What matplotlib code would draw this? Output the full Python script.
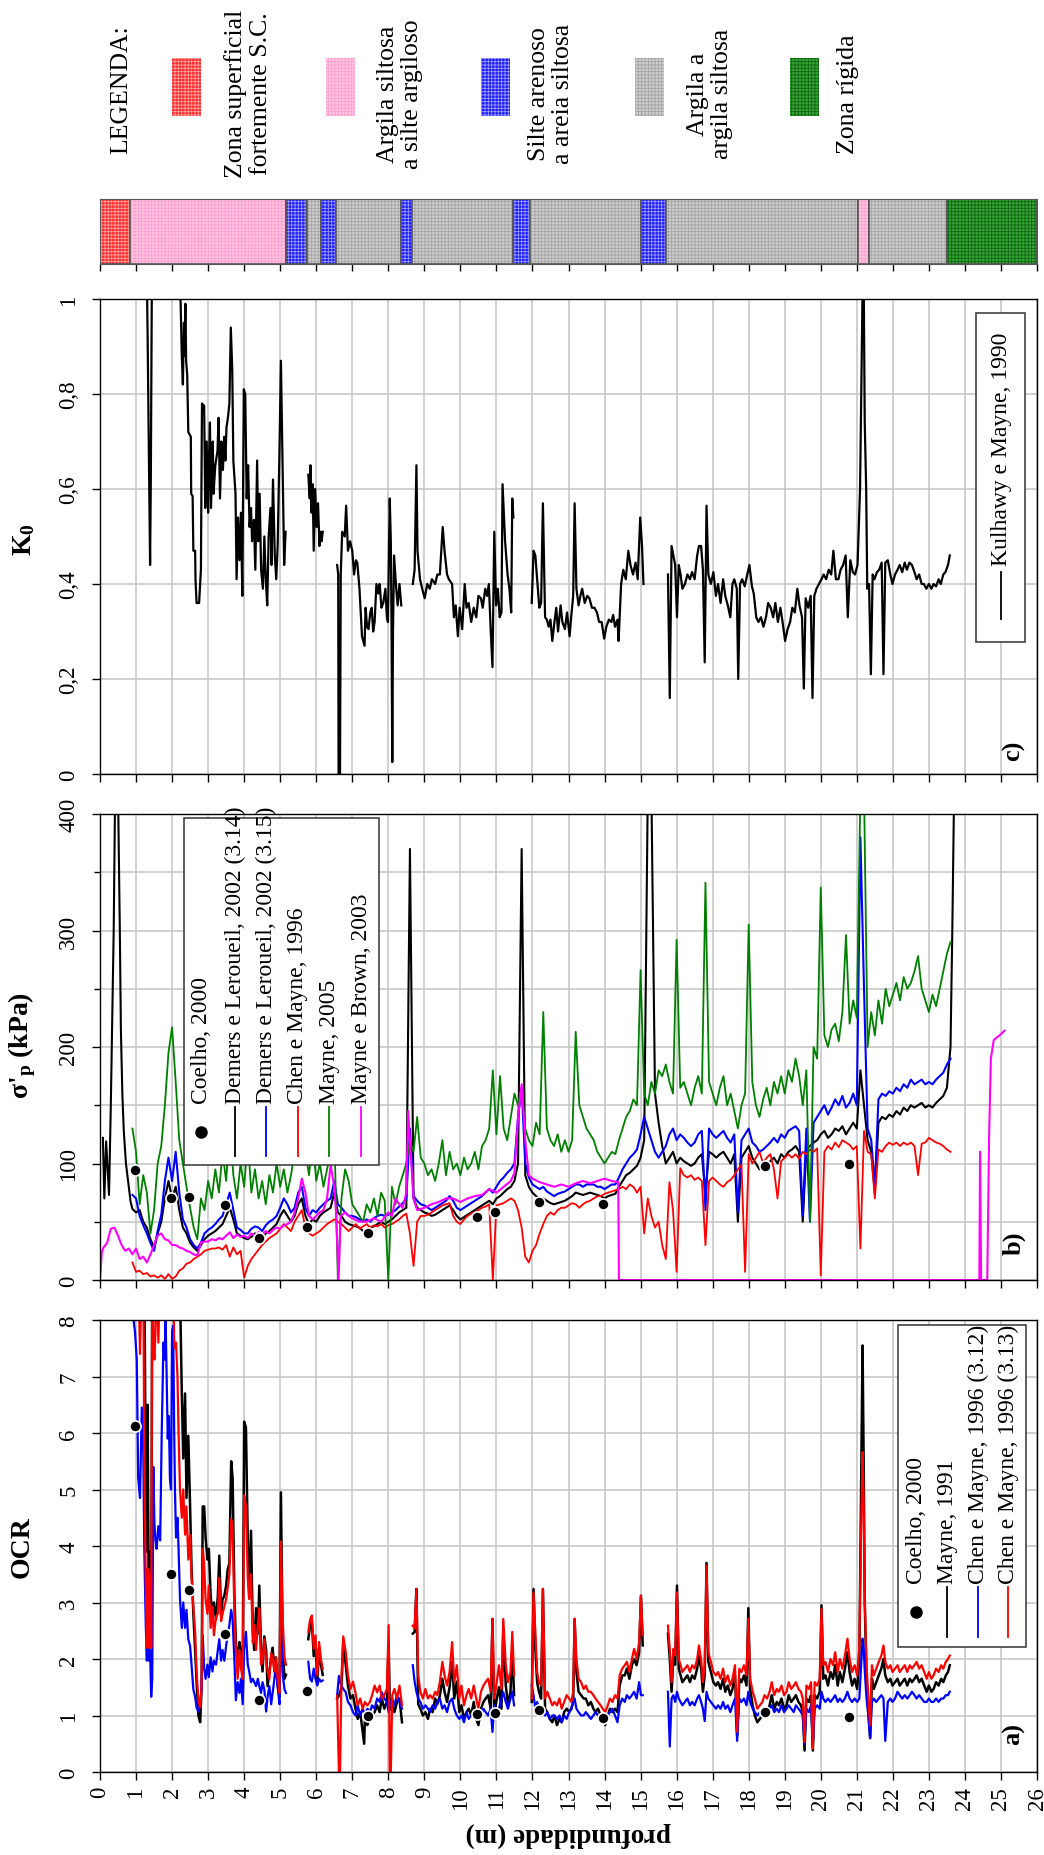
import numpy as np
import matplotlib
matplotlib.use("Agg")
import matplotlib.pyplot as plt
from matplotlib.patches import Rectangle

plt.rcParams['font.family'] = 'Liberation Serif'
plt.rcParams['mathtext.fontset'] = 'custom'
plt.rcParams['mathtext.rm'] = 'Liberation Serif'
plt.rcParams['mathtext.it'] = 'Liberation Serif:italic'
plt.rcParams['mathtext.bf'] = 'Liberation Serif:bold'
plt.rcParams['hatch.linewidth'] = 0.6

# ---------------- soil column ----------------
layer_top = [0, 0.82, 5.15, 5.74, 6.12, 6.56, 8.36, 8.65, 11.46, 11.93, 15.02, 15.71, 21.04, 21.34, 23.49]
layer_bot = [0.82, 5.15, 5.74, 6.12, 6.56, 8.36, 8.65, 11.46, 11.93, 15.02, 15.71, 21.04, 21.34, 23.49, 26.0]
layer_kind = ['sc', 'argila_silte', 'silte', 'argila', 'silte', 'argila', 'silte', 'argila',
              'silte', 'argila', 'silte', 'argila', 'argila_silte', 'argila', 'rigida']
kind_names = ['sc', 'argila_silte', 'silte', 'argila', 'rigida']
kind_labels = ['Zona superficial\nfortemente S.C.', 'Argila siltosa\na silte argiloso',
               'Silte arenoso\na areia siltosa', 'Argila a\nargila siltosa', 'Zona rígida']
kind_face = {'sc': '#ff2a2a', 'argila_silte': '#ffc4e2', 'silte': '#1a1aff',
             'argila': '#cfcfcf', 'rigida': '#35a535'}
kind_hatch = {'sc': '#ffa0a0', 'argila_silte': '#ff9fcf', 'silte': '#9a9aff',
              'argila': '#a3a3a3', 'rigida': '#106510'}

# ---------------- Coelho (2000) ----------------
coelho_dep = [0.97, 1.96, 2.46, 3.48, 4.42, 5.75, 7.45, 10.47, 10.97, 12.18, 13.95, 18.44, 20.77]
coelho_ocr = [6.12, 3.5, 3.22, 2.44, 1.27, 1.43, 1.0, 1.03, 1.04, 1.1, 0.95, 1.07, 0.98]
coelho_sigp = [94, 70, 71.5, 64, 36, 45.6, 40, 54, 58, 67, 65, 98, 100]

# ---------------- OCR profiles (panel a) ----------------
a1_dep = [0.88, 0.93, 0.97, 1.02, 1.06, 1.11, 1.16, 1.20, 1.23, 1.27,
          1.30, 1.32, 1.36, 1.39, 1.42, 1.45, 1.48, 1.51, 1.54, 1.57,
          1.62, 1.67, 1.71, 1.76, 1.79, 1.82, 1.85, 1.88, 1.91, 1.94,
          1.97, 2.00, 2.03, 2.06, 2.08, 2.11, 2.15, 2.18, 2.22, 2.27,
          2.31, 2.36, 2.40, 2.45, 2.50, 2.54, 2.59, 2.64, 2.68, 2.73,
          2.78, 2.82, 2.85, 2.89, 2.93, 2.98, 3.02, 3.07, 3.12, 3.16,
          3.22, 3.27, 3.31, 3.36, 3.40, 3.45, 3.50, 3.54, 3.59, 3.64,
          3.68, 3.73, 3.77, 3.82, 3.87, 3.91, 3.96, 4.00, 4.05, 4.10,
          4.14, 4.19, 4.24, 4.28, 4.33, 4.38, 4.42, 4.47, 4.51, 4.56,
          4.61, 4.65, 4.70, 4.75, 4.79, 4.84, 4.88, 4.93, 4.98, 5.02,
          5.07, 5.12, 5.16]
a1_mayne91 = [9, 9, 9, 9, 9, 9, 9, 9, 9, 5.0,
              3.9, 6.5, 2.16, 3.9, 2.3, 9, 9, 9, 8.5, 9,
              9, 9, 9, 9, 9, 9, 9, 9, 9, 9,
              9, 9, 9, 9, 9, 9, 9, 9, 8.5, 6.7,
              5.55, 6.7, 4.85, 5.95, 4.7, 3.6, 2.8, 2.16, 1.59, 1.0,
              0.88, 1.52, 4.7, 4.7, 4.15, 3.76, 3.95, 3.12, 2.8, 3.0,
              2.7, 3.12, 3.83, 2.8, 3.05, 3.12, 3.3, 3.57, 3.7, 5.5,
              5.2, 3.12, 2.3, 1.9, 2.3, 2.1, 1.78, 6.2, 6.1, 4.1,
              3.1, 4.27, 2.5, 2.16, 2.9, 2.45, 3.3, 2.16, 1.78, 2.4,
              2.16, 1.52, 1.78, 2.03, 2.2, 1.78, 2.03, 1.52, 1.33, 4.95,
              2.16, 1.65, 1.72]
a1_chen12 = [8.2, 8.0, 7.8, 7.3, 5.2, 4.85, 6.45, 5.7, 3.9, 2.6,
             1.97, 2.8, 1.97, 2.16, 1.33, 1.65, 5.4, 4.4, 4.1, 3.95,
             4.35, 4.1, 5.9, 7.6, 7.3, 8.05, 6.96, 5.9, 6.3, 5.2,
             5.0, 7.8, 7.9, 5.95, 5.0, 4.15, 4.5, 3.95, 3.06, 2.55,
             3.0, 2.55, 2.87, 2.35, 2.23, 1.9, 1.46, 1.33, 1.14, 1.07,
             1.2, 1.52, 2.42, 1.84, 1.65, 1.9, 1.68, 2.03, 1.78, 1.97,
             1.9, 2.16, 2.35, 1.97, 2.16, 1.97, 2.23, 2.42, 2.6, 2.87,
             2.7, 1.97, 1.27, 1.59, 1.4, 1.65, 1.2, 2.16, 2.48, 1.9,
             1.78, 1.59, 1.65, 1.59, 1.52, 1.65, 1.52, 1.4, 1.59, 1.46,
             1.07, 1.33, 1.52, 1.2, 1.4, 1.65, 1.9, 1.52, 1.2, 2.67,
             1.72, 1.46, 1.4]
a1_chen13 = [9, 9, 9, 9, 9, 7.4, 9, 9, 5.5, 3.4,
             2.2, 3.6, 2.2, 3.5, 2.2, 9, 7.6, 7.3, 7.8, 9,
             7.6, 9, 9, 9, 9, 9, 9, 9, 9, 9,
             9, 9, 9, 7.55, 7.5, 7.6, 7.0, 6.0, 5.0, 4.5,
             5.0, 4.2, 4.7, 3.76, 4.2, 3.44, 2.93, 2.48, 1.78, 1.27,
             1.14, 1.52, 3.95, 3.7, 3.06, 2.8, 3.3, 2.55, 2.93, 2.42,
             2.75, 2.8, 3.44, 2.67, 2.8, 2.93, 3.06, 3.24, 3.5, 4.47,
             4.3, 2.8, 2.16, 1.65, 2.16, 1.84, 1.65, 4.9, 4.7, 3.44,
             3.06, 3.5, 2.29, 2.6, 2.16, 2.6, 2.9, 1.9, 1.97, 2.35,
             1.97, 1.78, 1.65, 2.1, 2.03, 1.78, 2.03, 1.65, 1.4, 4.08,
             2.67, 2.03, 1.9]

a2_dep = [5.78, 5.83, 5.88, 5.93, 5.98, 6.03, 6.08, 6.13, 6.18]
a2_mayne91 = [2.35, 2.6, 2.65, 2.05, 2.3, 1.6, 2.2, 1.9, 1.72]
a2_chen12 = [1.95, 1.65, 1.6, 1.83, 1.65, 1.53, 1.65, 1.6, 1.62]
a2_chen13 = [2.48, 2.7, 2.77, 2.18, 2.42, 1.71, 2.3, 2.0, 1.83]

a3_dep = [6.58, 6.63, 6.66, 6.70, 6.75, 6.82, 6.88, 6.95, 7.02, 7.09,
          7.15, 7.22, 7.29, 7.33, 7.35, 7.42, 7.49, 7.55, 7.62, 7.69,
          7.76, 7.82, 7.89, 7.96, 8.01, 8.04, 8.07, 8.11, 8.17, 8.24,
          8.31, 8.38]
a3_mayne91 = [1.3, 1.35, 1.4, 1.5, 2.3, 1.88, 1.53, 1.3, 1.36, 1.12,
              0.94, 1.06, 0.71, 0.5, 0.94, 0.83, 1.0, 1.0, 1.06, 1.18,
              1.06, 1.3, 1.12, 1.24, 2.3, 1.2, 1.1, 1.18, 1.06, 1.24,
              1.3, 0.88]
a3_chen12 = [1.35, 1.7, 1.6, 1.53, 1.47, 1.41, 1.24, 1.18, 1.06, 1.0,
             1.18, 1.0, 1.12, 1.05, 1.0, 1.12, 1.06, 1.18, 1.12, 1.3,
             1.24, 1.41, 1.3, 1.24, 1.06, 1.2, 1.24, 1.3, 1.18, 1.36,
             1.24, 1.12]
a3_chen13 = [1.35, 0.0, 0.0, 1.65, 2.4, 2.12, 1.71, 1.47, 1.6, 1.4,
             1.18, 1.3, 1.12, 1.2, 1.24, 1.18, 1.24, 1.36, 1.53, 1.41,
             1.53, 1.3, 1.36, 1.47, 2.6, 0.0, 0.0, 1.36, 1.47, 1.3,
             1.53, 1.18]

a4_dep = [8.68, 8.73, 8.78, 8.83, 8.89, 8.96, 9.03, 9.10, 9.16, 9.23,
          9.30, 9.36, 9.43, 9.50, 9.56, 9.63, 9.70, 9.77, 9.83, 9.90,
          9.97, 10.03, 10.10, 10.17, 10.23, 10.30, 10.37, 10.44, 10.50, 10.57,
          10.64, 10.70, 10.77, 10.84, 10.89, 10.94, 11.01, 11.07, 11.14, 11.19,
          11.26, 11.32, 11.39, 11.44, 11.49]
a4_mayne91 = [2.45, 2.48, 3.24, 1.2, 1.12, 1.0, 1.06, 0.94, 1.12, 1.06,
              1.3, 1.2, 1.35, 1.65, 1.42, 1.24, 1.5, 1.95, 1.3, 1.6,
              1.06, 1.18, 0.94, 1.06, 1.12, 1.0, 1.24, 0.94, 0.83, 1.12,
              1.24, 1.3, 1.36, 1.12, 2.71, 1.0, 1.3, 1.5, 1.12, 2.48,
              1.53, 1.2, 1.42, 2.2, 1.36]
a4_chen12 = [1.89, 1.6, 1.42, 1.3, 1.24, 1.12, 1.18, 1.12, 1.06, 1.18,
             1.12, 1.24, 1.3, 1.12, 1.18, 1.06, 1.24, 1.3, 1.12, 1.0,
             0.94, 1.0, 0.88, 1.06, 0.94, 1.0, 1.06, 1.0, 0.94, 1.0,
             1.12, 1.06, 1.0, 1.12, 0.71, 1.18, 1.0, 1.12, 1.3, 1.41,
             1.24, 1.12, 1.3, 1.42, 1.18]
a4_chen13 = [2.59, 2.54, 3.24, 1.71, 1.42, 1.30, 1.47, 1.30, 1.36, 1.30,
             1.42, 1.36, 1.59, 1.95, 1.71, 1.53, 1.77, 2.30, 1.59, 1.89,
             1.30, 1.53, 1.18, 1.36, 1.47, 1.30, 1.53, 1.30, 1.12, 1.42,
             1.53, 1.59, 1.65, 1.42, 2.71, 1.30, 1.59, 1.89, 1.47, 2.71,
             1.89, 1.59, 1.77, 2.48, 1.71]

a5_dep = [11.98, 12.03, 12.08, 12.13, 12.18, 12.24, 12.29, 12.35, 12.41, 12.48,
          12.55, 12.61, 12.68, 12.75, 12.81, 12.88, 12.95, 13.02, 13.08, 13.13,
          13.17, 13.22, 13.28, 13.35, 13.42, 13.48, 13.55, 13.62, 13.69, 13.75,
          13.82, 13.89, 13.95, 14.02, 14.09, 14.15, 14.22, 14.29, 14.36, 14.42,
          14.49, 14.56, 14.62, 14.69, 14.76, 14.82, 14.89, 14.96, 15.01, 15.06]
a5_mayne91 = [1.24, 3.24, 2.18, 1.59, 1.42, 1.3, 3.24, 1.12, 1.06, 0.94,
              0.88, 1.0, 0.83, 0.94, 0.88, 1.06, 1.12, 1.06, 1.12, 1.24,
              2.71, 1.77, 1.42, 1.36, 1.3, 1.3, 1.18, 1.24, 1.12, 1.06,
              1.12, 1.0, 0.94, 0.83, 1.0, 1.12, 1.06, 1.12, 1.06, 1.53,
              1.71, 1.71, 1.83, 1.65, 1.89, 2.0, 1.89, 2.12, 3.12, 2.24]
a5_chen12 = [1.53, 1.36, 1.12, 1.24, 1.12, 1.0, 1.06, 1.0, 1.06, 0.94,
             1.0, 1.0, 0.94, 1.0, 0.88, 1.0, 0.94, 1.06, 1.12, 1.24,
             1.3, 1.12, 1.06, 1.0, 1.0, 1.06, 1.0, 0.94, 1.0, 1.06,
             1.0, 0.94, 1.0, 0.94, 1.0, 1.06, 1.12, 1.0, 0.88, 1.18,
             1.3, 1.24, 1.36, 1.3, 1.36, 1.42, 1.3, 1.59, 1.36, 1.36]
a5_chen13 = [1.30, 3.18, 2.48, 1.77, 1.59, 1.53, 3.24, 1.30, 1.42, 1.30,
             1.18, 1.24, 1.18, 1.30, 1.12, 1.24, 1.36, 1.30, 1.24, 1.42,
             2.71, 2.0, 1.65, 1.59, 1.47, 1.53, 1.42, 1.42, 1.36, 1.30,
             1.24, 1.18, 1.12, 1.06, 1.18, 1.30, 1.24, 1.36, 1.30, 1.71,
             1.83, 1.89, 1.95, 1.77, 2.0, 2.18, 2.0, 2.30, 3.12, 2.42]

a6_dep = [15.76, 15.81, 15.86, 15.91, 15.96, 16.01, 16.06, 16.11, 16.16, 16.23,
          16.30, 16.37, 16.43, 16.50, 16.57, 16.62, 16.68, 16.73, 16.78, 16.83,
          16.88, 16.95, 17.02, 17.09, 17.15, 17.22, 17.29, 17.35, 17.42, 17.49,
          17.55, 17.62, 17.68, 17.74, 17.80, 17.87, 17.94, 17.99, 18.04, 18.11,
          18.17, 18.24, 18.31, 18.38, 18.44, 18.51, 18.58, 18.64, 18.71, 18.78,
          18.84, 18.91, 18.98, 19.05, 19.11, 19.18, 19.25, 19.31, 19.38, 19.45,
          19.50, 19.55, 19.60, 19.67, 19.73, 19.78, 19.83, 19.90, 19.97, 20.02,
          20.07, 20.13, 20.20, 20.27, 20.34, 20.40, 20.47, 20.53, 20.60, 20.67,
          20.74, 20.80, 20.87, 20.94, 21.01, 21.07, 21.12, 21.16, 21.19, 21.22,
          21.27, 21.32, 21.37, 21.42, 21.47, 21.54, 21.61, 21.68, 21.74, 21.79,
          21.86, 21.93, 21.99, 22.06, 22.13, 22.19, 22.26, 22.33, 22.40, 22.47,
          22.53, 22.60, 22.66, 22.73, 22.80, 22.87, 22.94, 23.00, 23.07, 23.13,
          23.20, 23.27, 23.34, 23.40, 23.47, 23.53, 23.58]
a6_mayne91 = [2.45, 2.0, 1.42, 2.0, 1.9, 3.3, 1.83, 1.71, 1.59, 1.65,
              1.71, 1.59, 1.71, 1.65, 1.83, 2.06, 1.83, 1.42, 1.71, 3.7,
              1.95, 1.77, 1.59, 1.53, 1.59, 1.47, 1.65, 1.42, 1.53, 1.36,
              1.47, 1.71, 0.65, 1.65, 1.59, 1.71, 1.53, 2.9, 1.47, 1.18,
              1.0, 0.88, 0.94, 1.0, 1.12, 1.06, 1.18, 1.36, 1.12, 1.24,
              1.18, 1.3, 1.12, 1.18, 1.36, 1.24, 1.3, 1.36, 1.24, 1.18,
              1.06, 0.38, 1.3, 1.24, 1.36, 0.38, 1.36, 1.3, 1.42, 2.95,
              1.65, 1.71, 1.53, 1.77, 1.65, 1.89, 1.53, 1.77, 1.59, 1.83,
              2.12, 1.77, 1.53, 1.65, 1.47, 2.0, 5.0, 7.55, 5.5, 3.0,
              1.65, 1.06, 0.6, 1.65, 1.47, 1.59, 1.71, 1.83, 2.0, 1.71,
              1.59, 1.65, 1.53, 1.59, 1.65, 1.53, 1.59, 1.65, 1.53, 1.65,
              1.59, 1.65, 1.71, 1.59, 1.65, 1.53, 1.42, 1.53, 1.42, 1.47,
              1.59, 1.53, 1.65, 1.59, 1.71, 1.77, 1.89]
a6_chen12 = [1.42, 0.45, 1.3, 1.36, 1.24, 1.42, 1.3, 1.24, 1.18, 1.24,
             1.3, 1.18, 1.24, 1.18, 1.3, 1.36, 1.24, 1.12, 0.9, 1.42,
             1.3, 1.24, 1.18, 1.12, 1.18, 1.12, 1.24, 1.12, 1.18, 1.06,
             1.18, 1.3, 0.55, 1.3, 1.24, 1.3, 1.18, 1.42, 1.24, 1.12,
             1.06, 1.0, 1.06, 1.0, 1.12, 1.06, 1.12, 1.18, 1.06, 1.12,
             1.06, 1.18, 1.06, 1.12, 1.18, 1.12, 1.06, 1.18, 1.12, 1.06,
             1.0, 0.5, 1.12, 1.06, 1.18, 0.45, 1.12, 1.18, 1.12, 1.42,
             1.3, 1.24, 1.3, 1.24, 1.3, 1.36, 1.24, 1.3, 1.24, 1.3,
             1.42, 1.3, 1.24, 1.3, 1.24, 1.3, 1.9, 2.36, 2.2, 1.8,
             1.3, 1.0, 0.6, 1.24, 1.3, 1.24, 1.3, 1.36, 1.3, 0.55,
             1.24, 1.3, 1.24, 1.3, 1.42, 1.36, 1.3, 1.36, 1.3, 1.36,
             1.42, 1.36, 1.3, 1.36, 1.3, 1.24, 1.24, 1.3, 1.24, 1.24,
             1.3, 1.24, 1.3, 1.3, 1.36, 1.36, 1.42]
a6_chen13 = [2.59, 2.18, 1.59, 2.18, 2.06, 3.18, 2.0, 1.89, 1.77, 1.83,
             1.89, 1.77, 1.89, 1.83, 2.0, 2.24, 2.0, 1.59, 1.89, 3.65,
             2.12, 1.95, 1.77, 1.71, 1.77, 1.65, 1.83, 1.59, 1.71, 1.53,
             1.65, 1.89, 0.71, 1.83, 1.77, 1.89, 1.71, 2.71, 1.65, 1.42,
             1.30, 1.12, 1.18, 1.24, 1.36, 1.30, 1.42, 1.59, 1.36, 1.47,
             1.42, 1.53, 1.36, 1.42, 1.59, 1.47, 1.53, 1.59, 1.47, 1.42,
             1.30, 0.53, 1.53, 1.47, 1.59, 0.41, 1.59, 1.53, 1.65, 2.89,
             1.89, 1.95, 1.77, 2.0, 1.89, 2.12, 1.77, 2.0, 1.83, 2.06,
             2.36, 2.0, 1.77, 1.89, 1.71, 2.24, 4.25, 5.66, 4.83, 3.07,
             1.89, 1.30, 0.83, 1.89, 1.71, 1.83, 1.95, 2.06, 2.24, 1.95,
             1.83, 1.89, 1.77, 1.83, 1.89, 1.77, 1.83, 1.89, 1.77, 1.89,
             1.83, 1.89, 1.95, 1.83, 1.89, 1.77, 1.65, 1.77, 1.65, 1.71,
             1.83, 1.77, 1.89, 1.83, 1.95, 2.0, 2.06]

# ---------------- preconsolidation stress (panel b), kPa ----------------
dep_b = np.round(np.arange(0.9, 23.65, 0.1), 1)   # 0.9 ... 23.6 m
dem14_lead_dep = [0.08, 0.12, 0.17, 0.25, 0.30, 0.38, 0.42, 0.50, 0.55, 0.58, 0.62, 0.66, 0.72, 0.78, 0.85]
dem14_lead = [122, 70, 119, 73, 150, 300, 420, 420, 300, 214, 160, 128, 100, 85, 67]
dem14_tail_dep = [23.65, 23.70]
dem14_tail = [300, 420]
dem14 = [61,
         58, 60, 50, 45, 35, 28, 40, 50, 70, 85,
         70, 80, 60, 45, 40, 32, 28, 25, 30, 35,
         38, 40, 42, 45, 48, 55, 62, 52, 40, 38,
         36, 35, 37, 40, 38, 36, 40, 42, 45, 48,
         55, 60, 55, 50, 55, 65, 70, 55, 48, 52,
         50, 55, 58, 60, 62, 75, 58, 55, 50, 48,
         47, 46, 45, 42, 44, 45, 46, 48, 50, 48,
         50, 52, 55, 58, 60, 62, 370, 70, 62, 60,
         58, 57, 55, 56, 58, 60, 62, 64, 60, 55,
         52, 54, 56, 58, 60, 62, 64, 66, 68, 65,
         70, 72, 75, 78, 80, 85, 100, 370, 90, 80,
         75, 72, 70, 70, 68, 66, 65, 66, 67, 68,
         70, 72, 75, 74, 73, 74, 75, 74, 73, 72,
         70, 72, 73, 74, 80, 85, 90, 92, 95, 98,
         105, 120, 420, 420, 160, 135, 115, 100, 105, 110,
         100, 105, 102, 100, 98, 100, 105, 108, 75, 110,
         108, 105, 108, 110, 105, 100, 108, 50, 105, 110,
         115, 105, 100, 95, 98, 100, 102, 105, 100, 108,
         105, 110, 112, 115, 110, 50, 112, 115, 118, 120,
         125, 128, 122, 125, 130, 128, 132, 125, 130, 135,
         130, 180, 150, 120, 110, 75, 135, 140, 138, 142,
         140, 145, 142, 148, 145, 150, 148, 150, 152, 148,
         150, 148, 152, 155, 158, 165, 200]
dem15 = [73,
         70, 55, 47, 40, 32, 25, 42, 56, 85, 105,
         85, 110, 75, 52, 45, 35, 30, 27, 32, 40,
         43, 45, 48, 52, 55, 65, 75, 60, 45, 43,
         40, 40, 44, 46, 45, 42, 47, 50, 52, 55,
         62, 70, 65, 58, 62, 75, 80, 62, 55, 60,
         58, 62, 65, 68, 70, 85, 65, 62, 58, 55,
         55, 54, 52, 50, 52, 50, 53, 55, 56, 55,
         56, 58, 60, 63, 66, 70, 130, 72, 68, 65,
         64, 62, 60, 62, 64, 66, 68, 72, 68, 62,
         60, 62, 64, 66, 68, 70, 72, 75, 78, 75,
         80, 85, 88, 92, 95, 100, 140, 165, 100, 88,
         82, 80, 78, 80, 76, 74, 72, 74, 75, 76,
         78, 80, 82, 82, 80, 82, 82, 82, 80, 80,
         78, 80, 82, 82, 88, 95, 100, 105, 108, 112,
         125, 140, 130, 120, 110, 105, 110, 115, 125, 130,
         120, 125, 122, 118, 115, 118, 125, 128, 60, 130,
         125, 122, 125, 128, 122, 118, 125, 58, 120, 125,
         130, 118, 115, 110, 112, 115, 118, 122, 118, 125,
         122, 128, 130, 132, 128, 55, 130, 50, 135, 140,
         145, 150, 142, 148, 155, 150, 158, 148, 152, 160,
         150, 380, 250, 130, 120, 80, 155, 160, 158, 162,
         160, 165, 162, 168, 165, 172, 168, 170, 172, 168,
         170, 168, 172, 175, 178, 185, 190]
chen96 = [15,
          7, 8, 5, 6, 3, 4, 2, 4, 1, 5,
          1, 3, 8, 10, 14, 15, 18, 20, 22, 25,
          26, 27, 27, 28, 26, 30, 20, 28, 22, 25,
          2, 12, 18, 22, 26, 30, 33, 36, 38, 40,
          44, 48, 45, 42, 50, 55, 60, 45, 40, 38,
          40, 42, 45, 48, 50, 52, 50, 48, 45, 42,
          45, 48, 44, 46, 48, 45, 47, 46, 48, 45,
          47, 48, 50, 52, 55, 57, 40, 12, 50, 55,
          55, 56, 58, 60, 62, 64, 65, 66, 55, 50,
          48, 52, 55, 57, 58, 60, 62, 63, 65, 0,
          64, 65, 66, 68, 70, 68, 60, 45, 20, 15,
          25, 30, 40, 48, 55, 58, 56, 60, 62, 62,
          64, 66, 65, 62, 65, 67, 68, 70, 72, 72,
          74, 75, 76, 77, 78, 80, 78, 82, 80, 75,
          80, 40, 70, 55, 45, 50, 30, 18, 84, 60,
          7, 96, 90, 88, 90, 86, 88, 85, 30, 85,
          88, 85, 82, 80, 84, 86, 90, 95, 99, 7,
          108, 100, 105, 110, 100, 105, 108, 95, 70, 102,
          105, 108, 105, 108, 104, 110, 108, 112, 110, 113,
          4, 110, 115, 112, 118, 114, 120, 118, 116, 112,
          115, 27, 128, 110, 108, 70, 112, 110, 115, 118,
          116, 118, 115, 118, 116, 118, 115, 90, 117, 118,
          122, 120, 118, 117, 115, 112, 110]
mayne05 = [130,
           110, 65, 90, 75, 40, 60, 100, 115, 150, 195,
           217, 170, 120, 100, 80, 62, 45, 35, 70, 60,
           85, 70, 95, 75, 110, 85, 130, 90, 70, 100,
           80, 120, 75, 95, 70, 85, 65, 90, 75, 100,
           80, 95, 75, 90, 110, 105, 140, 110, 90, 120,
           85, 100, 80, 95, 110, 130, 0, 70, 95, 85,
           65, 60, 55, 50, 65, 58, 70, 55, 75, 68,
           0, 80, 65, 80, 90, 100, 120, 110, 140, 105,
           100, 90, 95, 85, 100, 120, 90, 110, 95, 100,
           90, 105, 95, 100, 110, 95, 115, 120, 130, 180,
           125, 175, 130, 120, 140, 160, 150, 165, 130, 120,
           115, 135, 125, 230, 130, 120, 115, 125, 110, 120,
           110, 120, 213, 150, 140, 130, 125, 120, 110, 105,
           100, 105, 110, 108, 120, 130, 140, 145, 155, 150,
           266, 160, 150, 170, 160, 180, 175, 185, 170, 160,
           292, 165, 170, 160, 150, 165, 175, 160, 341, 170,
           160, 150, 165, 175, 150, 160, 145, 130, 150, 160,
           305, 170, 150, 140, 155, 165, 150, 170, 160, 175,
           160, 180, 170, 190, 175, 150, 180, 50, 200, 190,
           337, 210, 200, 215, 220, 205, 230, 296, 220, 240,
           225, 420, 420, 200, 230, 210, 240, 220, 250, 235,
           245, 255, 240, 260, 250, 255, 265, 278, 250, 240,
           230, 245, 235, 250, 265, 280, 290]
mb03_dep = [0.0, 0.05, 0.1, 0.2, 0.3, 0.4, 0.5, 0.6, 0.7, 0.8,
            0.9, 1.0, 1.1, 1.2, 1.3, 1.4, 1.5, 1.6, 1.7, 1.8,
            1.9, 2.0, 2.1, 2.2, 2.3, 2.4, 2.5, 2.6, 2.7, 2.8,
            2.9, 3.0, 3.1, 3.2, 3.3, 3.4, 3.5, 3.6, 3.7, 3.8,
            3.9, 4.0, 4.1, 4.2, 4.3, 4.4, 4.5, 4.6, 4.7, 4.8,
            4.9, 5.0, 5.1, 5.2, 5.3, 5.4, 5.5, 5.6, 5.7, 5.8,
            5.9, 6.0, 6.1, 6.2, 6.3, 6.4, 6.5, 6.55, 6.62, 6.68,
            6.8, 6.9, 7.0, 7.2, 7.4, 7.6, 7.8, 8.0, 8.1, 8.2,
            8.3, 8.4, 8.5, 8.55, 8.62, 8.7, 8.8, 9.0, 9.2, 9.4,
            9.6, 9.8, 10.0, 10.2, 10.4, 10.6, 10.8, 11.0, 11.2, 11.4,
            11.5, 11.6, 11.7, 11.8, 11.9, 12.0, 12.2, 12.4, 12.6, 12.8,
            13.0, 13.2, 13.4, 13.6, 13.8, 14.0, 14.2, 14.38, 14.4, 24.4,
            24.42, 24.45, 24.62, 24.67, 24.72, 24.8, 25.0, 25.1]
mb03 = [0, 24, 28, 32, 44, 45, 38, 30, 25, 27,
        22, 27, 18, 20, 15, 22, 30, 38, 40, 35,
        34, 30, 30, 28, 27, 25, 24, 22, 21, 32,
        33, 33, 35, 34, 36, 35, 38, 41, 36, 39,
        37, 38, 36, 40, 38, 41, 39, 42, 40, 43,
        45, 44, 47, 48, 50, 58, 70, 87, 75, 55,
        52, 55, 58, 60, 70, 99, 80, 58, 0, 55,
        58, 55, 53, 50, 50, 53, 50, 58, 55, 70,
        65, 62, 75, 145, 110, 70, 60, 62, 65, 67,
        70, 70, 67, 70, 72, 73, 78, 75, 80, 85,
        92, 139, 168, 120, 90, 87, 84, 82, 80, 82,
        80, 83, 85, 83, 85, 87, 85, 84, 0, 0,
        110, 0, 0, 122, 190, 206, 211, 214]

# ---------------- K0 (panel c) ----------------
k1_dep = [1.30, 1.32, 1.36, 1.39, 1.41, 1.44]
k1 = [1.05, 0.93, 0.64, 0.44, 0.62, 1.05]
k2_dep = [2.22, 2.27, 2.30, 2.33, 2.34, 2.37, 2.39, 2.42, 2.45, 2.52,
          2.53, 2.57, 2.59, 2.64, 2.65, 2.68, 2.75, 2.80, 2.83, 2.89,
          2.92, 2.96, 3.00, 3.02, 3.05, 3.08, 3.13, 3.15, 3.20, 3.26,
          3.29, 3.33, 3.37, 3.41, 3.45, 3.48, 3.51, 3.55, 3.59, 3.63,
          3.67, 3.70, 3.76, 3.79, 3.83, 3.87, 3.91, 3.95, 3.99, 4.03,
          4.07, 4.11, 4.15, 4.19, 4.22, 4.27, 4.31, 4.36, 4.39, 4.43,
          4.47, 4.52, 4.56, 4.60, 4.64, 4.68, 4.73, 4.76, 4.80, 4.85,
          4.89, 4.93, 4.98, 5.02, 5.08, 5.11, 5.15]
k2 = [1.05, 0.88, 0.82, 0.95, 0.88, 0.99, 0.87, 0.84, 0.72, 0.71,
      0.59, 0.585, 0.47, 0.47, 0.41, 0.36, 0.36, 0.43, 0.78, 0.775,
      0.56, 0.70, 0.55, 0.65, 0.74, 0.56, 0.70, 0.59, 0.65, 0.68,
      0.75, 0.58, 0.70, 0.64, 0.71, 0.66, 0.73, 0.75, 0.78, 0.94,
      0.85, 0.66, 0.59, 0.41, 0.54, 0.45, 0.55, 0.375, 0.81, 0.80,
      0.58, 0.65, 0.52, 0.56, 0.49, 0.535, 0.43, 0.66, 0.49, 0.59,
      0.43, 0.39, 0.50, 0.41, 0.355, 0.50, 0.56, 0.44, 0.62, 0.46,
      0.41, 0.48, 0.68, 0.87, 0.58, 0.44, 0.51]
k3_dep = [5.78, 5.82, 5.84, 5.87, 5.90, 5.93, 5.97, 6.01, 6.05, 6.09, 6.12, 6.15, 6.18]
k3 = [0.63, 0.58, 0.65, 0.55, 0.61, 0.47, 0.60, 0.52, 0.57, 0.48, 0.51, 0.49, 0.51]
k4_dep = [6.58, 6.61, 6.62, 6.66, 6.68, 6.72, 6.79, 6.83, 6.88, 6.94,
          7.00, 7.05, 7.10, 7.14, 7.20, 7.27, 7.34, 7.37, 7.41, 7.45,
          7.50, 7.54, 7.58, 7.62, 7.67, 7.72, 7.76, 7.81, 7.86, 7.92,
          7.96, 7.99, 8.04, 8.07, 8.09, 8.11, 8.13, 8.16, 8.22, 8.26,
          8.31, 8.36]
k4 = [0.44, 0.42, 0.0, 0.0, 0.42, 0.51, 0.50, 0.565, 0.47, 0.49,
      0.47, 0.42, 0.45, 0.445, 0.39, 0.29, 0.27, 0.35, 0.31, 0.305,
      0.34, 0.35, 0.30, 0.32, 0.40, 0.38, 0.40, 0.35, 0.36, 0.39,
      0.33, 0.32, 0.58, 0.49, 0.30, 0.025, 0.30, 0.46, 0.39, 0.355,
      0.40, 0.355]
k5_dep = [8.68, 8.73, 8.78, 8.81, 8.88, 8.94, 9.01, 9.08, 9.15, 9.21,
          9.30, 9.36, 9.43, 9.51, 9.56, 9.63, 9.68, 9.77, 9.82, 9.87,
          9.93, 9.98, 10.05, 10.12, 10.17, 10.23, 10.30, 10.37, 10.44, 10.50,
          10.57, 10.62, 10.69, 10.74, 10.79, 10.84, 10.89, 10.94, 10.99, 11.04,
          11.09, 11.14, 11.17, 11.24, 11.31, 11.36, 11.41, 11.44, 11.47]
k5 = [0.40, 0.43, 0.65, 0.47, 0.41, 0.39, 0.37, 0.40, 0.39, 0.41,
      0.40, 0.42, 0.42, 0.52, 0.47, 0.42, 0.41, 0.40, 0.33, 0.355,
      0.29, 0.35, 0.305, 0.40, 0.35, 0.36, 0.32, 0.35, 0.33, 0.375,
      0.37, 0.35, 0.39, 0.375, 0.40, 0.305, 0.225, 0.51, 0.355, 0.39,
      0.33, 0.34, 0.61, 0.49, 0.42, 0.39, 0.34, 0.58, 0.54]
k6_dep = [11.98, 12.03, 12.08, 12.13, 12.19, 12.24, 12.29, 12.35, 12.40, 12.45,
          12.50, 12.55, 12.61, 12.66, 12.71, 12.78, 12.83, 12.90, 12.96, 13.03,
          13.08, 13.13, 13.17, 13.22, 13.28, 13.33, 13.38, 13.45, 13.52, 13.58,
          13.65, 13.72, 13.79, 13.85, 13.92, 13.99, 14.05, 14.12, 14.19, 14.24,
          14.29, 14.36, 14.39, 14.46, 14.52, 14.59, 14.66, 14.72, 14.79, 14.86,
          14.92, 14.99, 15.04, 15.08]
k6 = [0.36, 0.47, 0.46, 0.41, 0.35, 0.36, 0.57, 0.33, 0.325, 0.31,
      0.325, 0.28, 0.32, 0.35, 0.30, 0.355, 0.32, 0.305, 0.34, 0.29,
      0.335, 0.375, 0.57, 0.39, 0.355, 0.375, 0.39, 0.36, 0.375, 0.37,
      0.35, 0.35, 0.34, 0.32, 0.32, 0.285, 0.31, 0.325, 0.32, 0.335,
      0.31, 0.325, 0.28, 0.40, 0.43, 0.41, 0.47, 0.44, 0.42, 0.445,
      0.41, 0.54, 0.48, 0.40]
k7_dep = [15.76, 15.81, 15.86, 15.91, 15.96, 16.01, 16.06, 16.11, 16.16, 16.23,
          16.30, 16.37, 16.43, 16.50, 16.57, 16.62, 16.68, 16.73, 16.78, 16.83,
          16.88, 16.95, 17.02, 17.09, 17.15, 17.22, 17.29, 17.35, 17.42, 17.49,
          17.55, 17.60, 17.67, 17.71, 17.76, 17.82, 17.89, 17.96, 18.02, 18.09,
          18.14, 18.21, 18.27, 18.34, 18.41, 18.48, 18.54, 18.61, 18.68, 18.74,
          18.81, 18.88, 18.94, 19.01, 19.08, 19.15, 19.21, 19.28, 19.35, 19.41,
          19.48, 19.53, 19.58, 19.65, 19.72, 19.77, 19.82, 19.88, 19.95, 20.02,
          20.08, 20.15, 20.22, 20.29, 20.35, 20.42, 20.49, 20.55, 20.62, 20.69,
          20.75, 20.82, 20.89, 20.95, 21.02, 21.09, 21.12, 21.16, 21.19, 21.22,
          21.26, 21.29, 21.34, 21.39, 21.44, 21.49, 21.56, 21.62, 21.69, 21.74,
          21.79, 21.86, 21.93, 21.99, 22.06, 22.13, 22.19, 22.26, 22.33, 22.39,
          22.46, 22.53, 22.60, 22.66, 22.73, 22.80, 22.86, 22.93, 23.00, 23.07,
          23.13, 23.20, 23.27, 23.33, 23.40, 23.46, 23.53, 23.58]
k7 = [0.42, 0.16, 0.48, 0.46, 0.44, 0.33, 0.44, 0.42, 0.39, 0.40,
      0.42, 0.41, 0.425, 0.41, 0.46, 0.48, 0.48, 0.43, 0.235, 0.565,
      0.42, 0.40, 0.425, 0.375, 0.40, 0.36, 0.41, 0.375, 0.355, 0.33,
      0.40, 0.41, 0.39, 0.20, 0.40, 0.41, 0.395, 0.42, 0.44, 0.395,
      0.38, 0.33, 0.32, 0.33, 0.31, 0.33, 0.36, 0.35, 0.33, 0.36,
      0.32, 0.35, 0.32, 0.28, 0.305, 0.32, 0.35, 0.34, 0.39, 0.355,
      0.33, 0.18, 0.37, 0.35, 0.375, 0.16, 0.375, 0.39, 0.40, 0.41,
      0.42, 0.41, 0.43, 0.42, 0.47, 0.41, 0.41, 0.43, 0.44, 0.46,
      0.33, 0.45, 0.425, 0.42, 0.44, 0.60, 0.78, 1.02, 1.05, 0.74,
      0.60, 0.39, 0.40, 0.21, 0.42, 0.41, 0.425, 0.43, 0.445, 0.21,
      0.445, 0.45, 0.42, 0.40, 0.42, 0.43, 0.44, 0.425, 0.445, 0.43,
      0.445, 0.44, 0.425, 0.41, 0.42, 0.40, 0.40, 0.39, 0.40, 0.39,
      0.40, 0.395, 0.41, 0.40, 0.42, 0.425, 0.44, 0.46]


def join(*segments):
    """Chain (depth, value) segments with NaN breaks between them."""
    d_all, v_all = [], []
    for d, v in segments:
        d_all += list(d) + [np.nan]
        v_all += list(v) + [np.nan]
    return np.array(d_all), np.array(v_all)


dep_a, ocr_mayne91 = join((a1_dep, a1_mayne91), (a2_dep, a2_mayne91), (a3_dep, a3_mayne91),
                          (a4_dep, a4_mayne91), (a5_dep, a5_mayne91), (a6_dep, a6_mayne91))
_, ocr_chen12 = join((a1_dep, a1_chen12), (a2_dep, a2_chen12), (a3_dep, a3_chen12),
                     (a4_dep, a4_chen12), (a5_dep, a5_chen12), (a6_dep, a6_chen12))
_, ocr_chen13 = join((a1_dep, a1_chen13), (a2_dep, a2_chen13), (a3_dep, a3_chen13),
                     (a4_dep, a4_chen13), (a5_dep, a5_chen13), (a6_dep, a6_chen13))
dep_k0, k0 = join((k1_dep, k1), (k2_dep, k2), (k3_dep, k3), (k4_dep, k4),
                  (k5_dep, k5), (k6_dep, k6), (k7_dep, k7))
dem14_dep = dem14_lead_dep + list(dep_b) + dem14_tail_dep
dem14_all = dem14_lead + dem14 + dem14_tail

# ---------------- figure ----------------
W, H = 1044, 1856
fig = plt.figure(figsize=(W / 100, H / 100), dpi=100)


def rect(x0, y0, x1, y1):
    return [x0 / W, 1 - y1 / H, (x1 - x0) / W, (y1 - y0) / H]


ax_key = fig.add_axes([0, 1 - 196 / H, 1, 196 / H])
ax_soil = fig.add_axes(rect(100, 199.5, 1037, 264.5))
ax_c = fig.add_axes(rect(100, 300, 1037, 775))
ax_b = fig.add_axes(rect(100, 815, 1037, 1281))
ax_a = fig.add_axes(rect(100, 1321, 1037, 1773))

HATCH = '+++++'
TICK_FS = 16.5
LEG_FS = 17

# --- key of soil types ---
ax_key.set_xlim(0, W)
ax_key.set_ylim(196, 0)
ax_key.axis('off')
ax_key.text(121, 90, 'LEGENDA:', rotation=90, ha='center', va='center', fontsize=18.5)
key_patch_x = [172, 326, 481, 635, 790]
key_text_x = [248, 400, 551, 710, 848]
for kx, tx, kind, lab in zip(key_patch_x, key_text_x, kind_names, kind_labels):
    ax_key.add_patch(Rectangle((kx, 59), 29, 58, facecolor=kind_face[kind],
                               edgecolor=kind_hatch[kind], hatch=HATCH, linewidth=0))
    ax_key.text(tx, 94, lab, rotation=90, ha='center', va='center',
                multialignment='center', fontsize=18.5, linespacing=1.15)

# --- soil column ---
for top, bot, kind in zip(layer_top, layer_bot, layer_kind):
    ax_soil.bar(top, 1, width=bot - top, align='edge', color=kind_face[kind],
                edgecolor=kind_hatch[kind], hatch=HATCH, linewidth=0)
    ax_soil.bar(top, 1, width=bot - top, align='edge', fill=False,
                edgecolor='#555555', linewidth=1.2)
ax_soil.set_xlim(0, 26)
ax_soil.set_ylim(0, 1)
ax_soil.set_yticks([])
ax_soil.set_xticks(range(0, 27))
ax_soil.tick_params(axis='x', direction='out', length=5, width=1, labelbottom=False)
for s in ax_soil.spines.values():
    s.set_color('#555555')

# --- common axes styling ---
for ax in (ax_a, ax_b, ax_c):
    ax.set_xlim(0, 26)
    ax.set_xticks(range(0, 27))
    ax.set_axisbelow(True)
    ax.grid(True, which='both', color='#c4c4c4', linewidth=1.1)
    ax.tick_params(axis='both', direction='out', length=6, width=1, labelsize=TICK_FS)
    ax.tick_params(axis='y', labelrotation=90, pad=9)
    ax.tick_params(axis='x', labelbottom=False)
    for s in ax.spines.values():
        s.set_color('black')
        s.set_linewidth(1.0)

# panel c : K0
ax_c.plot(dep_k0, k0, color='black', lw=1.6)
ax_c.set_ylim(0, 1)
ax_c.set_yticks([0, 0.2, 0.4, 0.6, 0.8, 1.0])
ax_c.set_yticklabels(['0', '0,2', '0,4', '0,6', '0,8', '1'])

# panel b : sigma'p
ax_b.plot(dem14_dep, dem14_all, color='black', lw=1.5)
ax_b.plot(dep_b, dem15, color='#0000ff', lw=1.5)
ax_b.plot(dep_b, chen96, color='#ff0000', lw=1.3)
ax_b.plot(dep_b, mayne05, color='#008000', lw=1.3)
ax_b.plot(mb03_dep, mb03, color='#ff00ff', lw=1.5)
ax_b.plot(coelho_dep, coelho_sigp, 'o', color='black', markersize=8,
          markeredgecolor='white', markeredgewidth=1.2, zorder=5)
ax_b.set_ylim(0, 400)
ax_b.set_yticks([0, 100, 200, 300, 400])
ax_b.set_yticks([50, 150, 250, 350], minor=True)
ax_b.tick_params(axis='y', which='minor', length=4, width=1, direction='out')

# panel a : OCR
ax_a.plot(dep_a, ocr_mayne91, color='black', lw=1.8)
ax_a.plot(dep_a, ocr_chen12, color='#0000ff', lw=1.6)
ax_a.plot(dep_a, ocr_chen13, color='#ff0000', lw=1.6)
ax_a.plot(coelho_dep, coelho_ocr, 'o', color='black', markersize=8,
          markeredgecolor='white', markeredgewidth=1.2, zorder=5)
ax_a.set_ylim(0, 8)
ax_a.set_yticks(range(0, 9))
ax_a.tick_params(axis='x', labelbottom=True, labelrotation=90, pad=4)

for ax in (ax_a, ax_b, ax_c):
    for lab in ax.get_yticklabels():
        lab.set_verticalalignment('center')


def rotated_legend(ax, x0, x1, y0, y1, items, h0, h1, text_y):
    ax.add_patch(Rectangle((x0, y0), x1 - x0, y1 - y0, transform=ax.transAxes,
                           facecolor='white', edgecolor='#333333', linewidth=1.1, zorder=6))
    for x, label, color, kind in items:
        if kind == 'dot':
            ax.plot([x], [(h0 + h1) / 2], 'o', color='black', markersize=8,
                    transform=ax.transAxes, zorder=7, clip_on=False)
        else:
            ax.plot([x, x], [h0, h1], color=color, lw=1.3,
                    transform=ax.transAxes, zorder=7, clip_on=False)
        ax.text(x, text_y, label, rotation=90, ha='center', va='bottom',
                transform=ax.transAxes, fontsize=LEG_FS, zorder=8)


rotated_legend(ax_a, 0.852, 0.988, 0.277, 0.989,
               [(0.871, 'Coelho, 2000', 'black', 'dot'),
                (0.904, 'Mayne, 1991', 'black', 'line'),
                (0.937, 'Chen e Mayne, 1996 (3.12)', '#0000ff', 'line'),
                (0.969, 'Chen e Mayne, 1996 (3.13)', '#ff0000', 'line')],
               0.299, 0.409, 0.418)
rotated_legend(ax_b, 0.0896, 0.2978, 0.247, 0.991,
               [(0.1078, 'Coelho, 2000', 'black', 'dot'),
                (0.1441, 'Demers e Leroueil, 2002 (3.14)', 'black', 'line'),
                (0.1772, 'Demers e Leroueil, 2002 (3.15)', '#0000ff', 'line'),
                (0.2113, 'Chen e Mayne, 1996', '#ff0000', 'line'),
                (0.2444, 'Mayne, 2005', '#008000', 'line'),
                (0.2786, 'Mayne e Brown, 2003', '#ff00ff', 'line')],
               0.266, 0.371, 0.380)
rotated_legend(ax_c, 0.935, 0.987, 0.278, 0.9705,
               [(0.9616, 'Kulhawy e Mayne, 1990', 'black', 'line')],
               0.326, 0.425, 0.440)

# panel letters
for ax, letter, yy in ((ax_a, 'a)', 0.086), (ax_b, 'b)', 0.08), (ax_c, 'c)', 0.05)):
    ax.text(0.975, yy, letter, transform=ax.transAxes, rotation=90, ha='center',
            va='center', fontsize=19, fontweight='bold', zorder=8)

# axis titles
fig.text(22 / W, 1 - 1547 / H, 'OCR', rotation=90, ha='center', va='center',
         fontsize=20, fontweight='bold')
fig.text(22 / W, 1 - 1045 / H, r"σ'$_\mathbf{p}$ (kPa)", rotation=90, ha='center',
         va='center', fontsize=20, fontweight='bold')
fig.text(24 / W, 1 - 540 / H, r"K$_\mathbf{0}$", rotation=90, ha='center', va='center',
         fontsize=20, fontweight='bold')
fig.text(568 / W, 1 - 1835 / H, 'profundidade (m)', rotation=180, ha='center',
         va='center', fontsize=19.5, fontweight='bold')

fig.savefig('out.png', dpi=100)
